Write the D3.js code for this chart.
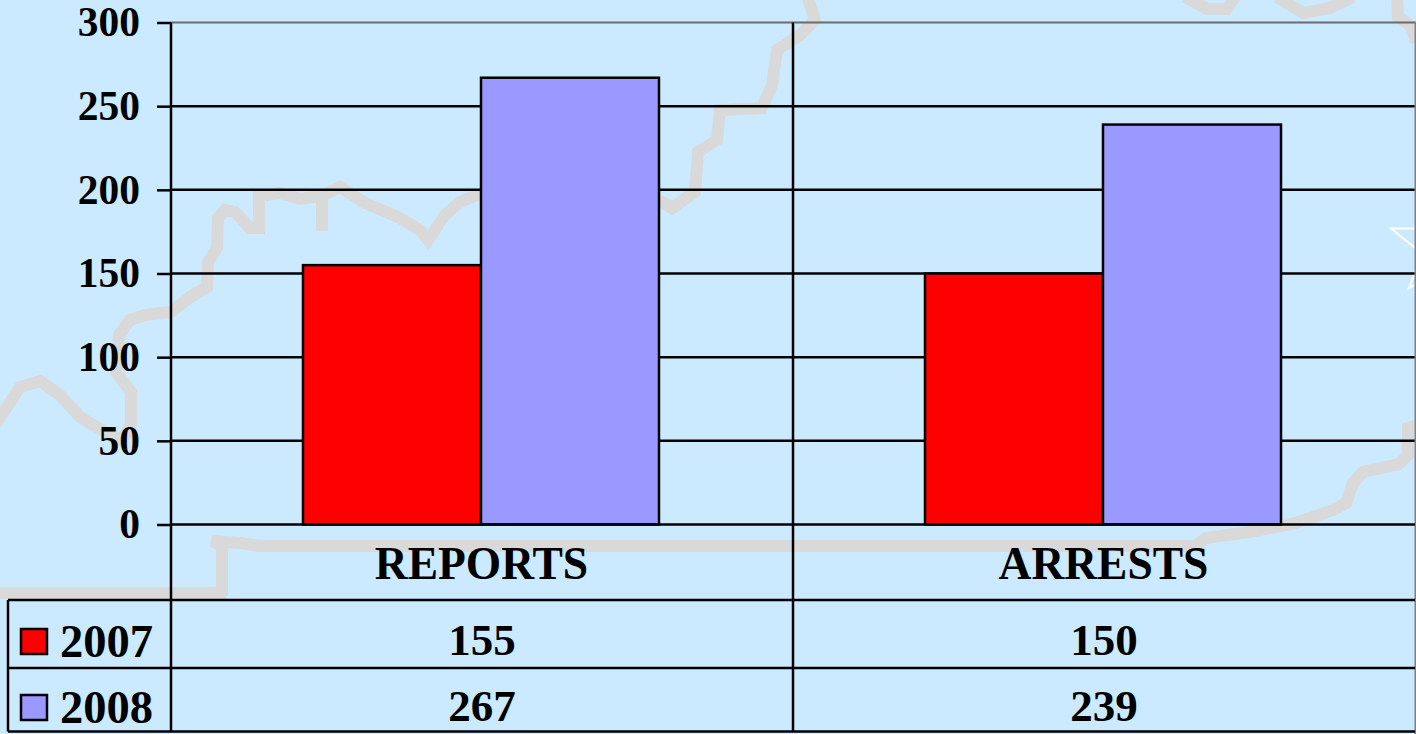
<!DOCTYPE html>
<html>
<head>
<meta charset="utf-8">
<script src="https://cdn.jsdelivr.net/npm/d3@7/dist/d3.min.js"></script>
<style>
html,body{margin:0;padding:0;background:#cbeaff;overflow:hidden}
svg{display:block}
text{font-family:"Liberation Serif",serif;font-weight:bold;fill:#000}
</style>
</head>
<body>
<svg id="c" width="1416" height="734"></svg>
<script>
const categories = ["REPORTS", "ARRESTS"];
const seriesNames = ["2007", "2008"];
const values2007 = [155, 150];
const values2008 = [267, 239];
const yTicks = [0, 50, 100, 150, 200, 250, 300];
const seriesColors = ["#ff0000", "#9999ff"];

const W = 1416, H = 734;
const plot = {left:171, right:1415, top:22.5, bottom:524.5};
const rows = {header:600, r1:668, r2:731.5, tableLeft:8};
const ink = "#000";
const sw = 2.5;

const svg = d3.select("#c");
svg.append("rect").attr("width",W).attr("height",H).attr("fill","#cbeaff");

// Decorative background: faint map outline
const line = d3.line();
const map = svg.append("g").attr("fill","none").attr("stroke","#d9d9d9")
  .attr("stroke-width",12).attr("stroke-linejoin","miter").attr("stroke-linecap","butt");
const outlines = [
 [[-5,425],[20,387],[40,381],[60,395],[80,417],[105,432],[122,440],[131,425],[131,392],[116,372],[119,335],[130,320],[145,315],[171,312],[190,297],[207,287],[208,262],[217,248],[218,218],[225,210],[235,212],[250,228],[259,228],[259,196],[280,193],[300,199],[322,196],[340,187],[365,203],[400,218],[420,230],[428,240],[445,215],[460,202],[490,190]],
 [[322,190],[322,231]],
 [[650,195],[672,208],[695,192],[698,152],[717,140],[720,110],[762,108],[772,85],[777,50],[800,35],[815,20],[808,-2]],
 [[0,593],[226,593]],
 [[222,596],[222,546],[212,541],[240,543],[260,546],[1195,546],[1206,538],[1250,532],[1296,523],[1333,510],[1346,503],[1353,483],[1363,472],[1399,464],[1408,455],[1408,428],[1418,425]],
 [[1185,-3],[1207,9],[1227,9],[1235,-3]],
 [[1277,-3],[1303,13],[1330,8],[1353,-3]],
 [[1397,-3],[1398,17],[1410,25],[1416,42]]
];
map.selectAll("path").data(outlines).join("path").attr("d",line);

// Decorative star outline
svg.append("path").attr("d",line([[1418,228.5],[1391,228.5],[1418,250]]))
  .attr("fill","none").attr("stroke","#fff").attr("stroke-width",2);
svg.append("path").attr("d",line([[1418,265],[1409,288],[1418,283]]))
  .attr("fill","none").attr("stroke","#fff").attr("stroke-width",2);

// Scales
const y = d3.scaleLinear().domain([0,300]).range([plot.bottom,plot.top]);
const x = d3.scaleBand().domain(categories).range([plot.left,plot.right]);
const xInner = d3.scaleBand().domain(seriesNames).range([132,488]);
const seriesValues = [values2007, values2008];

// Grid
svg.append("g").selectAll("line").data(yTicks.filter(d=>d>0&&d<300)).join("line")
  .attr("x1",plot.left).attr("x2",plot.right)
  .attr("y1",d=>y(d)).attr("y2",d=>y(d))
  .attr("stroke",ink).attr("stroke-width",sw);
svg.append("line").attr("x1",plot.left).attr("x2",plot.right)
  .attr("y1",y(300)).attr("y2",y(300)).attr("stroke","#6b6b6b").attr("stroke-width",2);
// category separators
svg.append("line").attr("x1",x(categories[1])).attr("x2",x(categories[1]))
  .attr("y1",plot.top).attr("y2",rows.r2).attr("stroke",ink).attr("stroke-width",sw);
svg.append("line").attr("x1",plot.right+0.5).attr("x2",plot.right+0.5)
  .attr("y1",plot.top-1).attr("y2",H).attr("stroke","#808080").attr("stroke-width",2);

// Bars
seriesNames.forEach((s,i)=>{
  svg.append("g").selectAll("rect").data(seriesValues[i]).join("rect")
    .attr("x",(d,j)=>x(categories[j])+xInner(s))
    .attr("width",xInner.bandwidth())
    .attr("y",d=>y(d))
    .attr("height",d=>y(0)-y(d))
    .attr("fill",seriesColors[i])
    .attr("stroke",ink).attr("stroke-width",sw);
});

// Y axis
const yAxis = d3.axisLeft(y).tickValues(yTicks).tickSize(14).tickPadding(17);
const gy = svg.append("g").attr("transform",`translate(${plot.left},0)`).call(yAxis);
gy.select(".domain").attr("stroke",ink).attr("stroke-width",sw).attr("d",`M0,${plot.top}V${rows.r2}`);
gy.selectAll(".tick line").attr("stroke",ink).attr("stroke-width",sw);
gy.selectAll(".tick text").attr("font-size",41.5).attr("font-family","Liberation Serif").attr("font-weight","bold").attr("fill","#000").attr("dy","0.32em");

// Data table
const hLines = [plot.bottom, rows.header, rows.r1, rows.r2];
svg.append("g").selectAll("line").data(hLines).join("line")
  .attr("x1",(d,i)=>i===0?plot.left:rows.tableLeft)
  .attr("x2",plot.right)
  .attr("y1",d=>d).attr("y2",d=>d)
  .attr("stroke",ink).attr("stroke-width",sw);
svg.append("line").attr("x1",rows.tableLeft).attr("x2",rows.tableLeft)
  .attr("y1",rows.header).attr("y2",rows.r2).attr("stroke",ink).attr("stroke-width",sw);

svg.append("g").selectAll("text").data(categories).join("text")
  .attr("x",d=>x(d)+x.bandwidth()/2-0.5).attr("y",579)
  .attr("text-anchor","middle").attr("font-size",45.5).text(d=>d);

const rowY = [655, 721];
const swatchY = [629, 695];
seriesNames.forEach((s,i)=>{
  svg.append("rect").attr("x",21).attr("y",swatchY[i]).attr("width",26).attr("height",25)
    .attr("fill",seriesColors[i]).attr("stroke",ink).attr("stroke-width",sw);
  svg.append("text").attr("x",60).attr("y",rowY[i]+2).attr("font-size",46.5).text(s);
  svg.append("g").selectAll("text").data(seriesValues[i]).join("text")
    .attr("x",(d,j)=>x(categories[j])+x.bandwidth()/2).attr("y",rowY[i])
    .attr("text-anchor","middle").attr("font-size",45).text(d=>d);
});
</script>
</body>
</html>
